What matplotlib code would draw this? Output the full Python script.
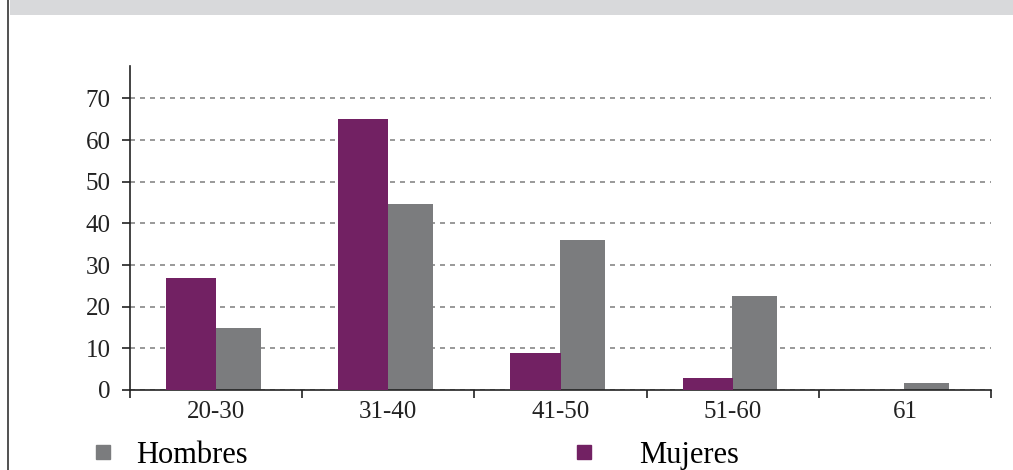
import numpy as np
import matplotlib.pyplot as plt
from matplotlib.lines import Line2D
from matplotlib.patches import Rectangle

# data
grupos = ['20-30', '31-40', '41-50', '51-60', '61']
mujeres = [27, 65, 9, 3, 0]
hombres = [15, 44.6, 36, 22.6, 1.7]
yticks = [0, 10, 20, 30, 40, 50, 60, 70]

purple = '#722163'
grey = '#7b7c7e'

plt.rcParams['font.family'] = ['Liberation Serif', 'DejaVu Serif']

fig = plt.figure(figsize=(10.13, 4.70), dpi=100)
W, H = 1013, 470

# grey band on top and left border line
fig.add_artist(Rectangle((10 / W, 1 - 15 / H), 1, 15 / H, transform=fig.transFigure,
                         facecolor='#d8d9db', edgecolor='none'))
fig.add_artist(Line2D([7.5 / W, 7.5 / W], [0, 1], transform=fig.transFigure,
                      color='#333333', lw=1.2))

ax = fig.add_axes([130 / W, 1 - 390 / H, 861 / W, 324 / H])
x = np.arange(len(grupos))
ax.bar(x - 0.291, mujeres, width=0.291, align='edge', color=purple, zorder=3)
ax.bar(x - 0.003, hombres, width=0.262, align='edge', color=grey, zorder=2)

ax.set_xlim(-0.5, len(grupos) - 0.5)
ax.set_ylim(0, 77.8)
ax.set_yticks(yticks)
ax.set_xticks(x)
ax.set_xticklabels(grupos)
ax.set_xticks(np.arange(-0.5, len(grupos)), minor=True)

ax.yaxis.grid(True, linestyle=(0, (3, 3)), color='#888888', lw=1.2, zorder=1)
for spine in ['top', 'right']:
    ax.spines[spine].set_visible(False)
for spine in ['left', 'bottom']:
    ax.spines[spine].set_linewidth(1.2)
    ax.spines[spine].set_color('#222222')

ax.tick_params(axis='y', length=6, width=1.2, pad=8, labelsize=18, colors='#222222')
ax.tick_params(axis='x', which='major', length=0, pad=8, labelsize=18, colors='#222222')
ax.tick_params(axis='x', which='minor', length=6, width=1.2, color='#222222')

# legend entries placed like the reference
h1 = Line2D([], [], marker='s', ls='none', color=grey, markersize=10)
h2 = Line2D([], [], marker='s', ls='none', color=purple, markersize=10)
fig.legend([h1], ['Hombres'], loc='lower left', bbox_to_anchor=(92.5 / W, 0.0),
           frameon=False, fontsize=22, handletextpad=0.72, handlelength=0.7,
           borderpad=0, borderaxespad=0)
fig.legend([h2], ['Mujeres'], loc='lower left', bbox_to_anchor=(573 / W, 0.0),
           frameon=False, fontsize=22, handletextpad=1.46, handlelength=0.7,
           borderpad=0, borderaxespad=0)

fig.savefig('out.png', dpi=100)
